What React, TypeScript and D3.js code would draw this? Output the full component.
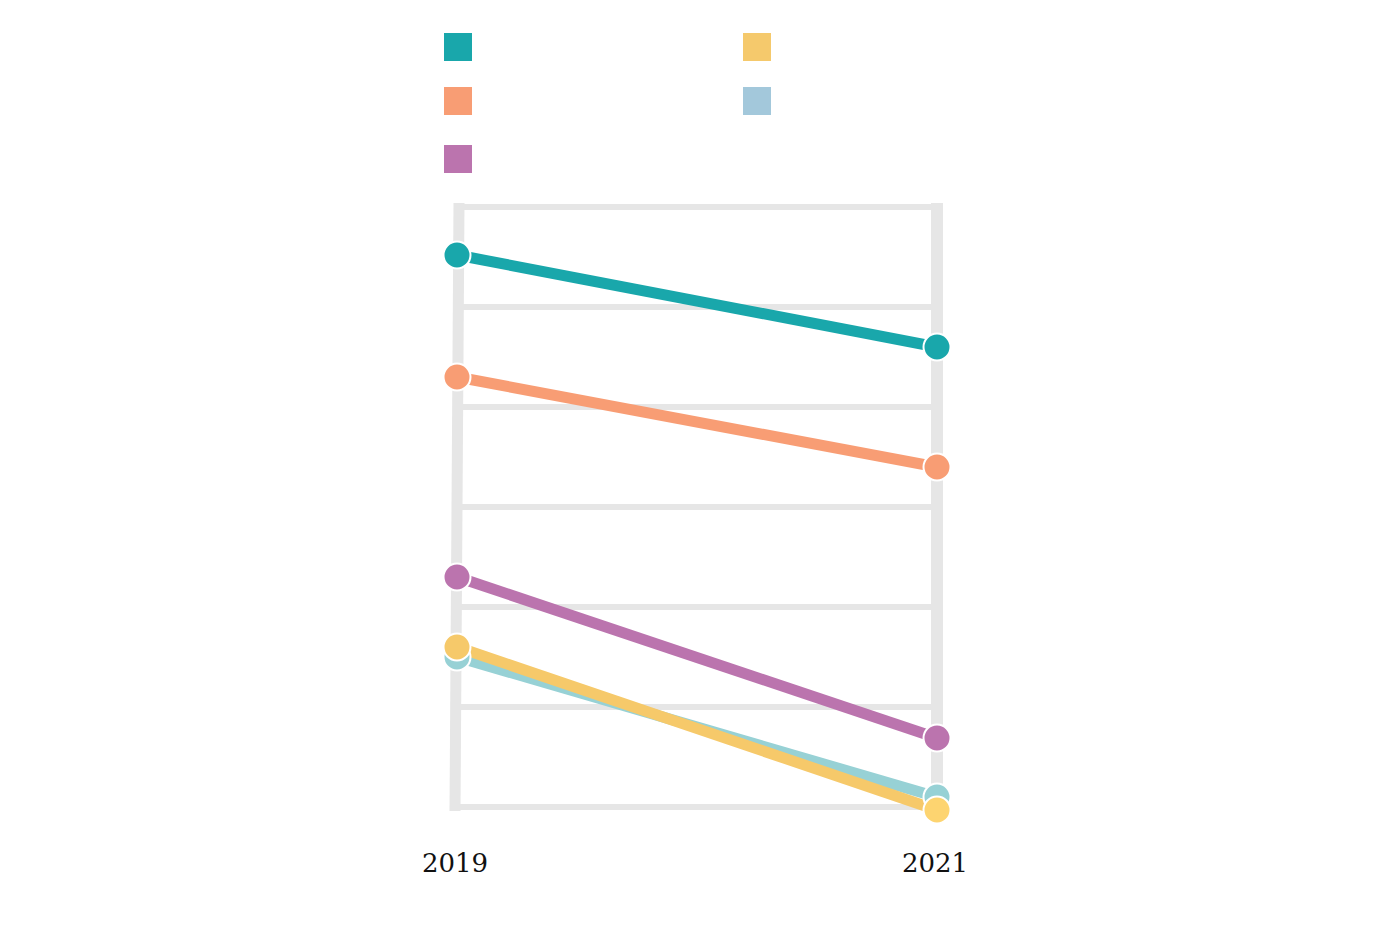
import React from "react";
import * as d3 from "d3";

const years = ["2019", "2021"];
const seriesNames = ["A", "B", "C", "D", "E"];
const legendColors = ["#19a7ab", "#f89d74", "#bb74ae", "#f5c96c", "#a3c8db"];
const markColors = ["#19a7ab", "#f89d74", "#bb74ae", "#f6c96a", "#97d1d5"];
const values2019 = [55.2, 43.0, 23.0, 16.0, 15.0];
const values2021 = [46.0, 34.0, 6.9, -0.3, 1.0];
const gridTicks = [0, 10, 20, 30, 40, 50, 60];
// draw order: teal, orange, purple, light blue, yellow
const drawOrder = [0, 1, 2, 4, 3];
const legendLayout = [
  { col: 0, row: 0 },
  { col: 0, row: 1 },
  { col: 0, row: 2 },
  { col: 1, row: 0 },
  { col: 1, row: 1 },
];

export default function App() {
  const W = 1400;
  const H = 936;
  const x = d3.scalePoint<string>().domain(years).range([457, 937]);
  const y = d3.scaleLinear().domain([0, 60]).range([807, 207]);
  const line = d3
    .line<[string, number]>()
    .x((d) => x(d[0]) as number)
    .y((d) => y(d[1]));

  const legendX = [444, 743];
  const legendY = [33, 87, 145];

  return (
    <svg
      width={W}
      height={H}
      style={{ position: "absolute", left: 0, top: 0, background: "#fff" }}
    >
      {/* legend */}
      {seriesNames.map((s, i) => (
        <rect
          key={s}
          x={legendX[legendLayout[i].col]}
          y={legendY[legendLayout[i].row]}
          width={28}
          height={28}
          fill={legendColors[i]}
        />
      ))}
      {/* horizontal grid */}
      {gridTicks.map((t) => (
        <line
          key={t}
          x1={x(years[0])}
          x2={x(years[1])}
          y1={y(t)}
          y2={y(t)}
          stroke="#e6e6e6"
          strokeWidth={6}
        />
      ))}
      {/* vertical axes */}
      <line
        x1={(x(years[0]) as number) + 2}
        x2={(x(years[0]) as number) - 2}
        y1={y(60) - 4}
        y2={y(0) + 4}
        stroke="#e6e6e6"
        strokeWidth={11}
      />
      <line
        x1={x(years[1])}
        x2={x(years[1])}
        y1={y(60) - 4}
        y2={y(0) + 4}
        stroke="#e6e6e6"
        strokeWidth={12}
      />
      {/* lines */}
      {drawOrder.map((i) => (
        <path
          key={"l" + i}
          d={
            line([
              [years[0], values2019[i]],
              [years[1], values2021[i]],
            ]) as string
          }
          stroke={markColors[i]}
          strokeWidth={11}
          fill="none"
        />
      ))}
      {/* dots */}
      {drawOrder.map((i) => (
        <g key={"d" + i}>
          <circle
            cx={x(years[0])}
            cy={y(values2019[i])}
            r={13.5}
            fill={markColors[i]}
            stroke="#fff"
            strokeWidth={2}
          />
          <circle
            cx={x(years[1])}
            cy={y(values2021[i])}
            r={13.5}
            fill={i === 3 ? "#fdd470" : markColors[i]}
            stroke="#fff"
            strokeWidth={2}
          />
        </g>
      ))}
      {/* x labels */}
      {years.map((yr) => (
        <text
          key={yr}
          x={(x(yr) as number) - 2}
          y={872}
          textAnchor="middle"
          fontFamily="'DejaVu Serif', serif"
          fontSize={26}
          fill="#111"
        >
          {yr}
        </text>
      ))}
    </svg>
  );
}
